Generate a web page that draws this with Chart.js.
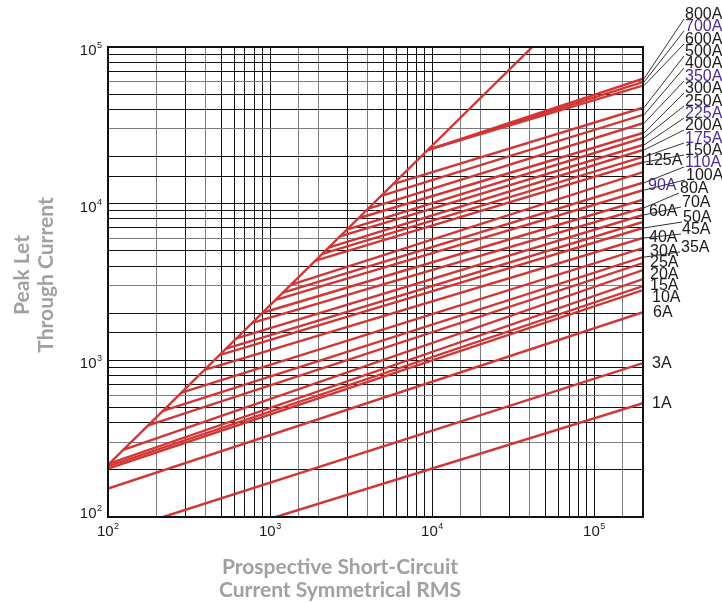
<!DOCTYPE html>
<html>
<head>
<meta charset="utf-8">
<title>Peak Let-Through Current</title>
<script src="https://cdn.jsdelivr.net/npm/chart.js@4.4.0/dist/chart.umd.min.js"></script>
<style>
  html, body { margin: 0; padding: 0; background: #fff; }
  #chart { display: block; }
</style>
</head>
<body>
<canvas id="chart" width="722" height="603"></canvas>
<script>
// fuse ratings, lowest curve first
const RATINGS = ['1A', '3A', '6A', '10A', '15A', '20A', '25A', '30A', '35A', '40A', '45A', '50A', '60A', '70A', '80A', '90A',
  '100A', '110A', '125A', '150A', '175A', '200A', '225A', '250A', '300A', '350A', '400A', '500A', '600A', '700A', '800A'];
// where each curve begins: prospective current (A) and peak (A)
const START_I = [1085, 219, 100, 100, 100, 100, 124, 177, 218, 284, 394, 487, 535, 620, 776, 897,
  1083, 1200, 1340, 1905, 2100, 2297, 2700, 2974, 3508, 4037, 4851, 5740, 9420, 9420, 9420];
const START_PK = [100, 100, 152, 204, 211, 218, 268, 385, 476, 623, 869, 1079, 1188, 1380, 1735, 2012,
  2435, 2704, 3027, 4332, 4786, 5242, 6180, 6818, 8070, 9310, 11230, 13330, 22080, 22080, 22080];
// every curve runs to the right edge of the chart
const END_I = 200000;
const END_PK = [533, 960, 2030, 2810, 2980, 3300, 3770, 4180, 4560, 5210, 6040, 7000, 7640, 8470, 9400, 10600,
  12200, 13600, 15900, 18400, 19900, 22000, 23700, 26300, 28300, 32600, 36900, 41000, 56700, 59700, 62700];
// maximum peak line (no current limitation)
const MAX_I = [100, 41500];
const MAX_PK = [215, 100000];

// axis ranges and decade tick labels
const X_RANGE = [100, 200000];
const Y_RANGE = [100, 100000];
const DECADES = [100, 1000, 10000, 100000];
const DECADE_EXP = ['2', '3', '4', '5'];

// label placement on the right (pixels) - layout only
const LABEL_POS = [
  [652, 404], [652, 364], [653, 313], [652, 298], [650, 286], [650, 275], [650, 263], [650, 252], [681, 248],
  [649, 238], [682, 230], [683, 218], [649, 212], [682, 203], [680, 189], [648, 186],
  [686, 176], [685, 163], [645, 161], [685, 151], [685, 139], [685, 126], [685, 114], [685, 102],
  [685, 89], [685, 77], [685, 64], [685, 52], [685, 40], [685, 27], [685, 15]];
const VIOLET_LABELS = ['700A', '350A', '225A', '175A', '110A', '90A'];

const RED = '#d33434';
const LABEL_FONT = '16px "Liberation Sans", Arial, sans-serif';
const TITLE_FONT = 'bold 21px Lato, "Open Sans", sans-serif';

let datasets = [{
  data: MAX_I.map((v, i) => ({ x: v, y: MAX_PK[i] })),
  borderColor: RED, borderWidth: 2.4
}];
RATINGS.forEach((r, i) => {
  datasets.push({
    label: r,
    data: [{ x: START_I[i], y: START_PK[i] }, { x: END_I, y: END_PK[i] }],
    borderColor: RED, borderWidth: 2.4
  });
});

function mantissa(v) {
  return Math.round(v / Math.pow(10, Math.floor(Math.log10(v) + 1e-9)));
}

// some minor lines print lighter in the original
function xGrid(c) {
  const m = mantissa(c.tick.value);
  return (m === 2 || m === 4) ? '#7c7c7c' : '#111';
}
function yGrid(c) {
  const m = mantissa(c.tick.value);
  return (m === 3 || m === 6) ? '#7c7c7c' : '#111';
}

function drawPow(ctx, left, base, exp) {
  ctx.font = '15px "Liberation Sans", Arial, sans-serif';
  ctx.fillText('10', left, base);
  const w = ctx.measureText('10').width;
  ctx.font = '9px "Liberation Sans", Arial, sans-serif';
  ctx.fillText(exp, left + w + 0.5, base - 7);
}
function powWidth(ctx, exp) {
  ctx.font = '15px "Liberation Sans", Arial, sans-serif';
  const w = ctx.measureText('10').width;
  ctx.font = '9px "Liberation Sans", Arial, sans-serif';
  return w + 0.5 + ctx.measureText(exp).width;
}

const decor = {
  id: 'decor',
  afterDraw(chart) {
    const { ctx, chartArea: a, scales: { x, y } } = chart;
    ctx.save();
    // frame
    ctx.strokeStyle = '#111';
    ctx.lineWidth = 2;
    ctx.strokeRect(a.left, a.top, a.right - a.left, a.bottom - a.top);

    // decade tick labels
    ctx.fillStyle = '#1a1a1a';
    ctx.textAlign = 'left';
    ctx.textBaseline = 'alphabetic';
    DECADES.forEach((v, i) => {
      const w = powWidth(ctx, DECADE_EXP[i]);
      drawPow(ctx, x.getPixelForValue(v) - w / 2, a.bottom + 19, DECADE_EXP[i]);
      const py = y.getPixelForValue(v);
      drawPow(ctx, a.left - 6 - w, i === 0 ? py + 1 : py + 8, DECADE_EXP[i]);
    });

    // rating labels and leaders
    ctx.textBaseline = 'middle';
    RATINGS.forEach((r, i) => {
      const [lx, ly] = LABEL_POS[i];
      if (lx > 670) {
        ctx.strokeStyle = '#333';
        ctx.lineWidth = 1;
        ctx.beginPath();
        ctx.moveTo(lx - 1, ly + 4);
        ctx.lineTo(a.right + 1, y.getPixelForValue(END_PK[i]));
        ctx.stroke();
      }
      ctx.font = LABEL_FONT;
      ctx.fillStyle = VIOLET_LABELS.includes(r) ? '#4a2a9c' : '#1a1a1a';
      ctx.fillText(r, lx, ly);
    });

    // axis titles
    ctx.fillStyle = '#a0a0a0';
    ctx.font = TITLE_FONT;
    ctx.textAlign = 'center';
    ctx.fillText('Prospective Short-Circuit', 340, 567);
    ctx.fillText('Current Symmetrical RMS', 340, 590);
    ctx.save();
    ctx.translate(22, 275);
    ctx.rotate(-Math.PI / 2);
    ctx.fillText('Peak Let', 0, 0);
    ctx.fillText('Through Current', 0, 24);
    ctx.restore();

    ctx.restore();
  }
};

new Chart(document.getElementById('chart'), {
  type: 'scatter',
  data: { datasets },
  options: {
    responsive: false,
    animation: false,
    showLine: true,
    layout: { padding: { left: 0, right: 79, top: 47, bottom: 0 } },
    elements: { point: { radius: 0 }, line: { tension: 0 } },
    plugins: { legend: { display: false }, tooltip: { enabled: false } },
    scales: {
      x: {
        type: 'logarithmic', min: X_RANGE[0], max: X_RANGE[1],
        ticks: { display: false },
        grid: { color: xGrid, lineWidth: 1, drawTicks: false },
        border: { display: false },
        afterFit: s => { s.height = 86; }
      },
      y: {
        type: 'logarithmic', min: Y_RANGE[0], max: Y_RANGE[1],
        ticks: { display: false },
        grid: { color: yGrid, lineWidth: 1, drawTicks: false },
        border: { display: false },
        afterFit: s => { s.width = 108; }
      }
    }
  },
  plugins: [decor]
});
</script>
</body>
</html>
